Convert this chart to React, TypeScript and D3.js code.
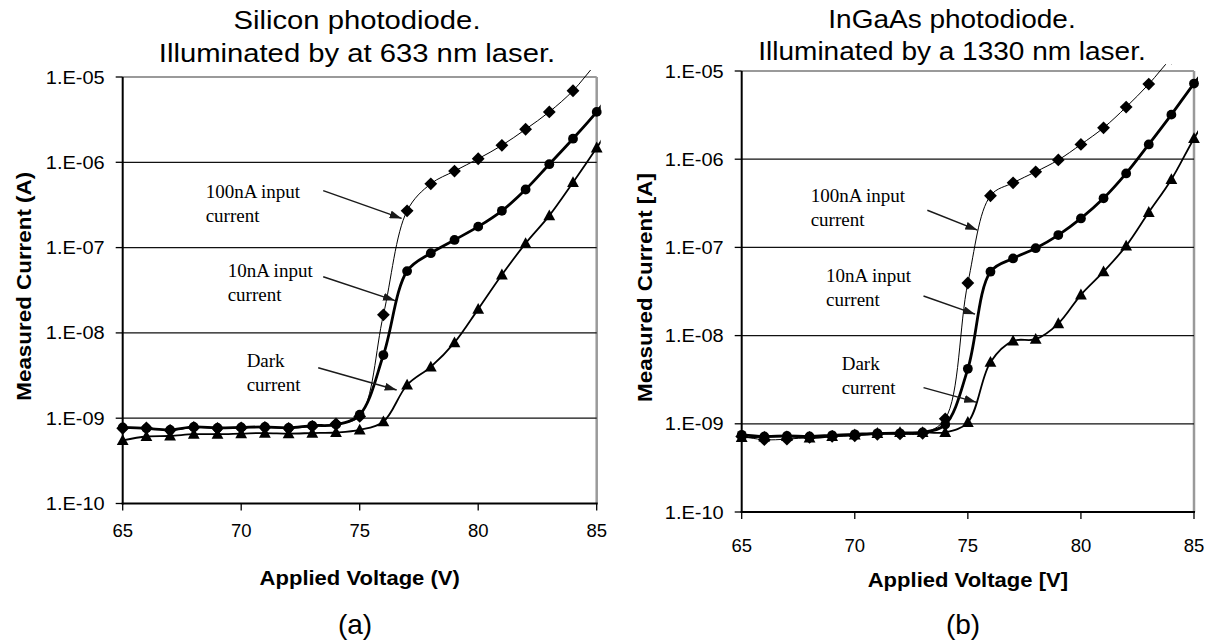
import React from "react";
import * as d3 from "d3";

// Bias voltage steps (V)
const volts = [65, 66, 67, 68, 69, 70, 71, 72, 73, 74, 75, 76, 77, 78, 79, 80, 81, 82, 83, 84, 85, 86];

// (a) Silicon photodiode, 633 nm illumination — measured current (A)
const si100nA = [7.6e-10, 7.7e-10, 7.2e-10, 7.8e-10, 7.6e-10, 7.7e-10, 7.8e-10, 7.6e-10, 8.0e-10, 8.6e-10, 1.05e-9, 1.63e-8, 2.7e-7, 5.6e-7, 7.9e-7, 1.1e-6, 1.58e-6, 2.44e-6, 3.9e-6, 6.9e-6, 1.45e-5, 2.6e-5];
const si10nA = [7.8e-10, 7.6e-10, 7.3e-10, 7.9e-10, 7.7e-10, 7.8e-10, 7.9e-10, 7.7e-10, 8.2e-10, 8.4e-10, 1.1e-9, 5.5e-9, 5.3e-8, 8.6e-8, 1.23e-7, 1.76e-7, 2.7e-7, 4.8e-7, 9.5e-7, 1.89e-6, 3.9e-6, 9.0e-6];
const siDark = [5.5e-10, 6.1e-10, 6.2e-10, 6.5e-10, 6.5e-10, 6.6e-10, 6.7e-10, 6.6e-10, 6.7e-10, 6.8e-10, 7.3e-10, 9.1e-10, 2.45e-9, 4.0e-9, 7.7e-9, 1.9e-8, 4.8e-8, 1.12e-7, 2.37e-7, 5.8e-7, 1.48e-6, 4.0e-6];

// (b) InGaAs photodiode, 1330 nm illumination — measured current (A)
const ig100nA = [7.2e-10, 6.6e-10, 6.7e-10, 7.0e-10, 7.2e-10, 7.3e-10, 7.6e-10, 7.7e-10, 7.8e-10, 1.14e-9, 3.95e-8, 3.85e-7, 5.4e-7, 7.2e-7, 9.8e-7, 1.47e-6, 2.27e-6, 3.9e-6, 7.1e-6, 1.4e-5, 2.4e-5, 4.0e-5];
const ig10nA = [7.5e-10, 7.2e-10, 7.3e-10, 7.2e-10, 7.4e-10, 7.6e-10, 7.8e-10, 7.8e-10, 8.0e-10, 9.8e-10, 4.2e-9, 5.3e-8, 7.5e-8, 9.8e-8, 1.38e-7, 2.13e-7, 3.6e-7, 6.9e-7, 1.47e-6, 3.2e-6, 7.2e-6, 1.5e-5];
const igDark = [7.0e-10, 7.1e-10, 7.2e-10, 6.9e-10, 7.2e-10, 7.5e-10, 7.8e-10, 8.0e-10, 8.0e-10, 8.0e-10, 1.04e-9, 5.0e-9, 8.7e-9, 9.1e-9, 1.37e-8, 2.9e-8, 5.3e-8, 1.04e-7, 2.5e-7, 5.9e-7, 1.72e-6, 4.5e-6];

// Axes
const xDomain = [65, 85];
const xTicks = [65, 70, 75, 80, 85];
const yDomain = [1e-10, 1e-5];
const yTicks = [1e-10, 1e-9, 1e-8, 1e-7, 1e-6, 1e-5];
const gridValues = [1e-9, 1e-8, 1e-7, 1e-6];

// Callout labels: text anchor (V, A), arrow start and arrow tip (V, A)
const siCallouts = [
  { lines: ["100nA input", "current"], at: [68.5, 3.79e-7], from: [73.46, 4.65e-7], to: [76.77, 2.2e-7] },
  { lines: ["10nA input", "current"], at: [69.43, 4.56e-8], from: [73.46, 4.56e-8], to: [76.49, 2.39e-8] },
  { lines: ["Dark", "current"], at: [70.23, 4.02e-9], from: [73.25, 3.91e-9], to: [76.56, 2.14e-9] },
];
const igCallouts = [
  { lines: ["100nA input", "current"], at: [68.05, 3.28e-7], from: [73.21, 2.64e-7], to: [75.42, 1.57e-7] },
  { lines: ["10nA input", "current"], at: [68.73, 4.06e-8], from: [73.04, 2.81e-8], to: [75.32, 1.75e-8] },
  { lines: ["Dark", "current"], at: [69.42, 4.04e-9], from: [73.04, 2.57e-9], to: [75.37, 1.76e-9] },
];

const SANS = "'Liberation Sans', Arial, sans-serif";
const SERIF = "'Liberation Serif', 'Times New Roman', serif";

type Series = { values: number[]; marker: "diamond" | "circle" | "triangle"; width: number };

const markerPath: Record<string, string> = {
  diamond: "M0,-6.4L6.4,0L0,6.4L-6.4,0Z",
  triangle: "M0,-6.2L5.9,4.6L-5.9,4.6Z",
};

function fmtTick(v: number) {
  const e = Math.round(Math.log10(v));
  return `1.E-${String(-e).padStart(2, "0")}`;
}

function StretchText(props: {
  x: number; y: number; size: number; sx?: number; bold?: boolean; family?: string;
  anchor?: "start" | "middle" | "end"; rotate?: number; children: React.ReactNode;
}) {
  const { x, y, size, sx = 1, bold, family = SANS, anchor = "middle", rotate = 0, children } = props;
  return (
    <text
      transform={`translate(${x},${y}) rotate(${rotate}) scale(${sx},1)`}
      fontFamily={family}
      fontSize={size}
      fontWeight={bold ? "bold" : "normal"}
      textAnchor={anchor}
      fill="#000"
    >
      {children}
    </text>
  );
}

type PanelProps = {
  id: string;
  box: { left: number; right: number; top: number; bottom: number };
  series: Series[];
  callouts: typeof siCallouts;
  title: [string, string];
  titleX: number;
  titleY: [number, number];
  titleStretch: number;
  xLabel: string;
  yLabel: string;
  xTickOffset: number;
  xLabelY: number;
  yLabelX: number;
  panelTag: string;
  panelTagX: number;
};

function Panel(p: PanelProps) {
  const { box } = p;
  const x = d3.scaleLinear().domain(xDomain).range([box.left, box.right]);
  const y = d3.scaleLog().domain(yDomain).range([box.bottom, box.top]);
  const line = d3
    .line<[number, number]>()
    .x((d) => x(d[0]))
    .y((d) => y(d[1]))
    .curve(d3.curveCatmullRom.alpha(0.5));
  const clipId = `clip-${p.id}`;
  const markClipId = `mclip-${p.id}`;
  const arrowId = `arrow-${p.id}`;
  const midY = (box.top + box.bottom) / 2;
  const midX = (box.left + box.right) / 2;

  return (
    <g>
      <defs>
        <clipPath id={clipId}>
          <rect x={box.left} y={box.top - 7} width={box.right - box.left + 4} height={box.bottom - box.top + 7} />
        </clipPath>
        <clipPath id={markClipId}>
          <rect x={box.left - 10} y={box.top - 7} width={box.right - box.left + 20} height={box.bottom - box.top + 17} />
        </clipPath>
        <marker id={arrowId} viewBox="0 0 12 8" refX="12" refY="4" markerWidth="12" markerHeight="8"
          markerUnits="userSpaceOnUse" orient="auto">
          <path d="M0,0L12,4L0,8Z" fill="#1a1a1a" />
        </marker>
      </defs>

      {/* titles */}
      <StretchText x={p.titleX} y={p.titleY[0]} size={25} sx={p.titleStretch}>{p.title[0]}</StretchText>
      <StretchText x={p.titleX} y={p.titleY[1]} size={25} sx={p.titleStretch}>{p.title[1]}</StretchText>

      {/* plot frame */}
      <line x1={box.left} x2={box.right} y1={box.top} y2={box.top} stroke="#9a9a9a" strokeWidth={2} />
      <line x1={box.right} x2={box.right} y1={box.top} y2={box.bottom} stroke="#9a9a9a" strokeWidth={2.5} />

      {/* decade gridlines */}
      {gridValues.map((v) => (
        <line key={v} x1={box.left} x2={box.right} y1={y(v)} y2={y(v)} stroke="#111" strokeWidth={1.3} />
      ))}

      {/* y axis */}
      <line x1={box.left} x2={box.left} y1={box.top} y2={box.bottom + 1} stroke="#000" strokeWidth={2} />
      {yTicks.map((v) => (
        <g key={v}>
          <line x1={box.left - 7} x2={box.left} y1={y(v)} y2={y(v)} stroke="#000" strokeWidth={1.3} />
          <StretchText x={box.left - 18} y={y(v) + 6.5} size={18.5} sx={1.08} anchor="end">{fmtTick(v)}</StretchText>
        </g>
      ))}

      {/* x axis */}
      <line x1={box.left - 1} x2={box.right + 1} y1={box.bottom} y2={box.bottom} stroke="#000" strokeWidth={2} />
      {xTicks.map((v) => (
        <g key={v}>
          <line x1={x(v)} x2={x(v)} y1={box.bottom} y2={box.bottom + 7} stroke="#000" strokeWidth={1.3} />
          <StretchText x={x(v)} y={box.bottom + p.xTickOffset} size={18.5} sx={1.0}>{v}</StretchText>
        </g>
      ))}

      {/* axis titles */}
      <StretchText x={midX} y={p.xLabelY} size={19.5} sx={1.13} bold>{p.xLabel}</StretchText>
      <StretchText x={p.yLabelX} y={midY - 4} size={20} sx={1.12} bold rotate={-90}>{p.yLabel}</StretchText>
      <StretchText x={p.panelTagX} y={634} size={28} sx={1.0}>{p.panelTag}</StretchText>

      {/* series lines */}
      <g clipPath={`url(#${clipId})`}>
        {p.series.map((s, i) => (
          <path
            key={i}
            d={line(volts.map((v, j) => [v, s.values[j]] as [number, number])) || ""}
            fill="none"
            stroke="#000"
            strokeWidth={s.width}
            strokeLinejoin="round"
          />
        ))}
      </g>

      {/* series markers */}
      <g clipPath={`url(#${markClipId})`}>
        {p.series.map((s, i) =>
          volts.map((v, j) =>
            v > xDomain[1] ? null : s.marker === "circle" ? (
              <circle key={`${i}-${j}`} cx={x(v)} cy={y(s.values[j])} r={4.9} fill="#000" />
            ) : (
              <path key={`${i}-${j}`} d={markerPath[s.marker]} transform={`translate(${x(v)},${y(s.values[j])})`} fill="#000" />
            )
          )
        )}
      </g>

      {/* callouts */}
      {p.callouts.map((c, i) => (
        <g key={i}>
          {c.lines.map((t, k) => (
            <text key={k} x={x(c.at[0])} y={y(c.at[1]) + k * 24} fontFamily={SERIF} fontSize={19} fill="#000">
              {t}
            </text>
          ))}
          <line
            x1={x(c.from[0])} y1={y(c.from[1])} x2={x(c.to[0])} y2={y(c.to[1])}
            stroke="#1a1a1a" strokeWidth={1.5} markerEnd={`url(#${arrowId})`}
          />
        </g>
      ))}
    </g>
  );
}

export default function App() {
  const siSeries: Series[] = [
    { values: siDark, marker: "triangle", width: 1.8 },
    { values: si10nA, marker: "circle", width: 2.8 },
    { values: si100nA, marker: "diamond", width: 1 },
  ];
  const igSeries: Series[] = [
    { values: igDark, marker: "triangle", width: 1.8 },
    { values: ig10nA, marker: "circle", width: 2.8 },
    { values: ig100nA, marker: "diamond", width: 1 },
  ];
  return (
    <svg width={1214} height={644} style={{ position: "absolute", left: 0, top: 0, background: "#fff" }}>
      <rect width={1214} height={644} fill="#fff" />
      <Panel
        id="a"
        box={{ left: 122.7, right: 596.7, top: 77, bottom: 503.5 }}
        series={siSeries}
        callouts={siCallouts}
        title={["Silicon photodiode.", "Illuminated by at 633 nm laser."]}
        titleX={357}
        titleY={[28.5, 61.5]}
        titleStretch={1.17}
        xLabel="Applied Voltage (V)"
        yLabel="Measured Current (A)"
        xTickOffset={33}
        xLabelY={585}
        yLabelX={31}
        panelTag="(a)"
        panelTagX={355}
      />
      <Panel
        id="b"
        box={{ left: 741.7, right: 1194, top: 71, bottom: 512 }}
        series={igSeries}
        callouts={igCallouts}
        title={["InGaAs photodiode.", "Illuminated by a 1330 nm laser."]}
        titleX={952}
        titleY={[27.5, 59.5]}
        titleStretch={1.12}
        xLabel="Applied Voltage [V]"
        yLabel="Measured Current [A]"
        xTickOffset={40}
        xLabelY={587}
        yLabelX={652}
        panelTag="(b)"
        panelTagX={963}
      />
    </svg>
  );
}
